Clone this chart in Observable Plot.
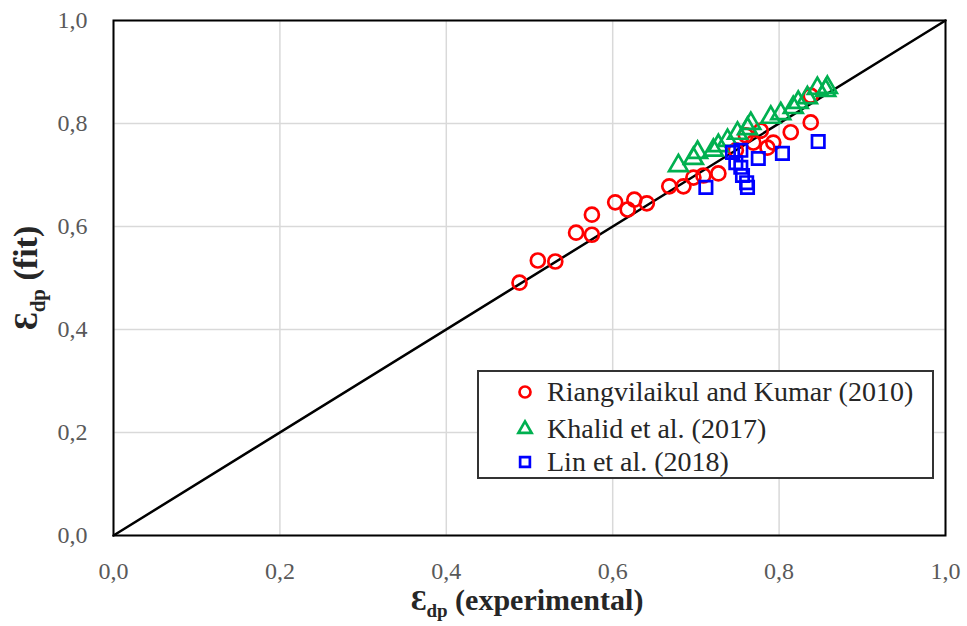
<!DOCTYPE html>
<html>
<head>
<meta charset="utf-8">
<script src="https://cdn.jsdelivr.net/npm/d3@7"></script>
<script src="https://cdn.jsdelivr.net/npm/@observablehq/plot@0.6"></script>
<style>
  html, body { margin: 0; padding: 0; background: white; }
  #wrap { position: relative; width: 967px; height: 626px; font-family: "Liberation Serif", "Times New Roman", serif; }
  .axt { position: absolute; font-family: "Liberation Serif", "Times New Roman", serif; font-weight: bold; font-size: 30px; color: #262626; white-space: nowrap; line-height: 1; }
  .axt sub { font-size: 19px; vertical-align: -7px; }
  #ytitle { font-size: 34px; }
  #ytitle sub { font-size: 21px; vertical-align: -8px; }
  #legend { position: absolute; left: 477px; top: 370px; width: 453px; height: 105px; border: 2px solid #333; background: white; }
  .lrow { position: absolute; left: 0; height: 30px; display: flex; align-items: center; font-family: "Liberation Serif", "Times New Roman", serif; font-size: 28px; color: #262626; white-space: nowrap; }
  .lrow svg { margin-left: 35px; margin-right: 11px; }
</style>
</head>
<body>
<div id="wrap"></div>
<script>
// ---- data ----
const seriesNames = ["Riangvilaikul and Kumar (2010)", "Khalid et al. (2017)", "Lin et al. (2018)"];
const seriesColors = ["#ff0000", "#00b050", "#0000ff"];
const seriesSymbols = ["circle", "triangle", "square"];

const riangX = [0.488, 0.510, 0.531, 0.556, 0.575, 0.575, 0.603, 0.618, 0.626, 0.641, 0.668, 0.685, 0.697, 0.709, 0.727, 0.748, 0.760, 0.769, 0.778, 0.786, 0.793, 0.814, 0.838, 0.838];
const riangY = [0.491, 0.534, 0.532, 0.588, 0.623, 0.584, 0.647, 0.633, 0.652, 0.645, 0.678, 0.678, 0.695, 0.699, 0.703, 0.748, 0.777, 0.763, 0.786, 0.753, 0.763, 0.783, 0.802, 0.854];

const khalidX = [0.679, 0.697, 0.702, 0.721, 0.727, 0.738, 0.750, 0.762, 0.766, 0.790, 0.802, 0.817, 0.823, 0.834, 0.846, 0.856, 0.858];
const khalidY = [0.718, 0.732, 0.744, 0.748, 0.757, 0.767, 0.781, 0.790, 0.800, 0.812, 0.819, 0.831, 0.841, 0.850, 0.868, 0.864, 0.870];

const linX = [0.712, 0.744, 0.754, 0.748, 0.754, 0.756, 0.761, 0.762, 0.775, 0.804, 0.847];
const linY = [0.676, 0.744, 0.748, 0.724, 0.715, 0.699, 0.685, 0.676, 0.732, 0.742, 0.765];

const parityLine = [0, 1];
const tickValues = [0, 0.2, 0.4, 0.6, 0.8, 1.0];

// ---- build table ----
const pts = [];
[[riangX, riangY], [khalidX, khalidY], [linX, linY]].forEach(([xs, ys], s) => {
  xs.forEach((x, i) => pts.push({series: seriesNames[s], x, y: ys[i]}));
});
const fmt = d => d.toFixed(1).replace(".", ",");

const chart = Plot.plot({
  width: 967,
  height: 626,
  marginLeft: 113,
  marginRight: 22,
  marginTop: 20,
  marginBottom: 91,
  style: {fontFamily: "Liberation Serif, Times New Roman, serif", fontSize: "24px", color: "#595959", background: "white", overflow: "visible"},
  x: {domain: [0, 1], ticks: tickValues, tickFormat: fmt, tickSize: 0, tickPadding: 26, label: null},
  y: {domain: [0, 1], ticks: tickValues, tickFormat: fmt, tickSize: 0, tickPadding: 26, label: null},
  symbol: {domain: seriesNames, range: seriesSymbols},
  color: {domain: seriesNames, range: seriesColors},
  marks: [
    Plot.gridX(tickValues, {stroke: "#d9d9d9", strokeOpacity: 1, strokeWidth: 1.5}),
    Plot.gridY(tickValues, {stroke: "#d9d9d9", strokeOpacity: 1, strokeWidth: 1.5}),
    Plot.line(parityLine, {x: d => d, y: d => d, stroke: "black", strokeWidth: 2.5}),
    ...seriesNames.map(name => Plot.dot(pts.filter(p => p.series === name), {
      x: "x", y: "y", symbol: "series", stroke: "series", fill: "none", r: 7, strokeWidth: 2.7
    })),
    Plot.frame({stroke: "black", strokeWidth: 2})
  ]
});

const wrap = document.getElementById("wrap");
wrap.appendChild(chart);

// axis titles
const xt = document.createElement("div");
xt.className = "axt";
xt.innerHTML = "Ɛ<sub>dp</sub> (experimental)";
xt.style.left = "0px"; xt.style.top = "585px";
wrap.appendChild(xt);
const yt = document.createElement("div");
yt.className = "axt";
yt.id = "ytitle";
yt.innerHTML = "Ɛ<sub>dp</sub>&nbsp;(fit)";
wrap.appendChild(yt);

const xw = xt.getBoundingClientRect().width;
xt.style.left = (527 - xw / 2) + "px";
const yw = yt.getBoundingClientRect().width, yh = yt.getBoundingClientRect().height;
yt.style.left = (29 - yw / 2) + "px";
yt.style.top = (278 - yh / 2) + "px";
yt.style.transform = "rotate(-90deg)";

// legend
const lg = document.createElement("div");
lg.id = "legend";
const rowTops = [5, 42, 75];
seriesNames.forEach((name, i) => {
  const row = document.createElement("div");
  row.className = "lrow";
  row.style.top = rowTops[i] + "px";
  const sym = d3.symbol(i === 0 ? d3.symbolCircle : i === 1 ? d3.symbolTriangle : d3.symbolSquare, i === 1 ? 75 : 95)();
  row.innerHTML = `<svg width="22" height="22" viewBox="-11 -11 22 22"><path d="${sym}" fill="none" stroke="${seriesColors[i]}" stroke-width="2.7"/></svg><span>${name}</span>`;
  lg.appendChild(row);
});
wrap.appendChild(lg);
</script>
</body>
</html>
